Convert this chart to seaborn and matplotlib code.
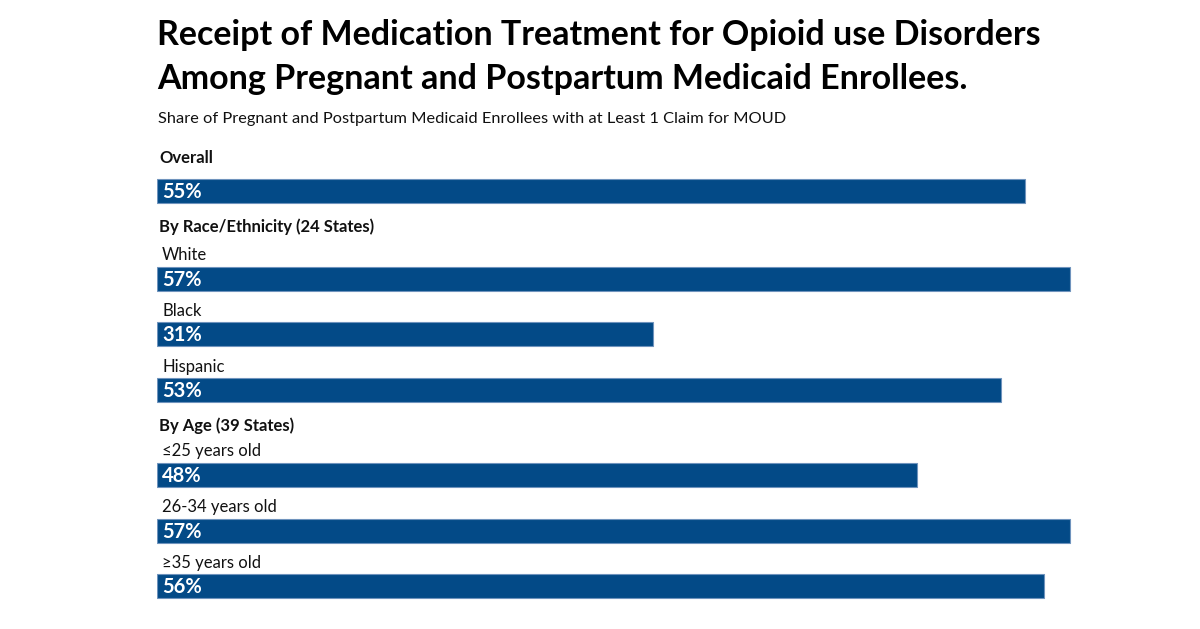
import pandas as pd
import matplotlib.pyplot as plt
import seaborn as sns

# data
groups = ["Overall", "Race", "Race", "Race", "Age", "Age", "Age"]
categories = ["", "White", "Black", "Hispanic",
              "\u226425 years old", "26-34 years old", "\u226535 years old"]
shares = [54.6, 57.4, 31.2, 53.1, 47.8, 57.4, 55.8]
headers = ["Overall", "By Race/Ethnicity (24 States)", "By Age (39 States)"]

title = ("Receipt of Medication Treatment for Opioid use Disorders\n"
         "Among Pregnant and Postpartum Medicaid Enrollees.")
subtitle = "Share of Pregnant and Postpartum Medicaid Enrollees with at Least 1 Claim for MOUD"

# layout (pixel rows of the 1200x629 canvas)
W, H = 1200, 629
bar_rows = [191, 279, 334, 390, 475, 531, 586]
label_rows = [None, 255, 311, 367, 451, 507, 563]
header_rows = [158, 227, 426]
bar_h = 24
left_px, px_per_pct = 157, 15.9
blue = "#034a87"

sns.set_theme(style="white")
plt.rcParams["font.family"] = ["Lato", "DejaVu Sans"]

fig = plt.figure(figsize=(W / 100, H / 100), dpi=100)
top_px, bot_px = 140, 615
x_max = 60
ax = fig.add_axes([left_px / W, 1 - bot_px / H,
                   x_max * px_per_pct / W, (bot_px - top_px) / H])

df = pd.DataFrame({"group": groups, "category": categories,
                   "share": shares, "row": bar_rows})
min_gap = min(b - a for a, b in zip(bar_rows, bar_rows[1:]))
sns.barplot(data=df, x="share", y="row", orient="y", native_scale=True,
            width=bar_h / min_gap, color=blue, saturation=1,
            edgecolor="#6f93bd", linewidth=0.8, ax=ax)
ax.set_xlim(0, x_max)
ax.set_ylim(bot_px, top_px)
ax.axis("off")


def fy(y):
    return 1 - y / H


# percent labels inside the bars
for v, r in zip(shares, bar_rows):
    fig.text(162 / W, fy(r + 1), f"{round(v)}%", color="white",
             fontsize=14.5, fontweight="bold", va="center", ha="left")

# category labels above bars
for c, r in zip(categories, label_rows):
    if r is not None:
        fig.text(162 / W, fy(r), c, fontsize=12, va="center", ha="left",
                 color="#111111")

for h, r in zip(headers, header_rows):
    fig.text(159 / W, fy(r), h, fontsize=12, fontweight="bold",
             va="center", ha="left", color="#111111")

fig.text(157 / W, fy(57), title, fontsize=24.5, fontweight="bold",
         va="center", ha="left", linespacing=1.45, color="black")
fig.text(158 / W, fy(119), subtitle, fontsize=11.8, va="center", ha="left",
         color="#111111")

fig.savefig("out.png", dpi=100)
